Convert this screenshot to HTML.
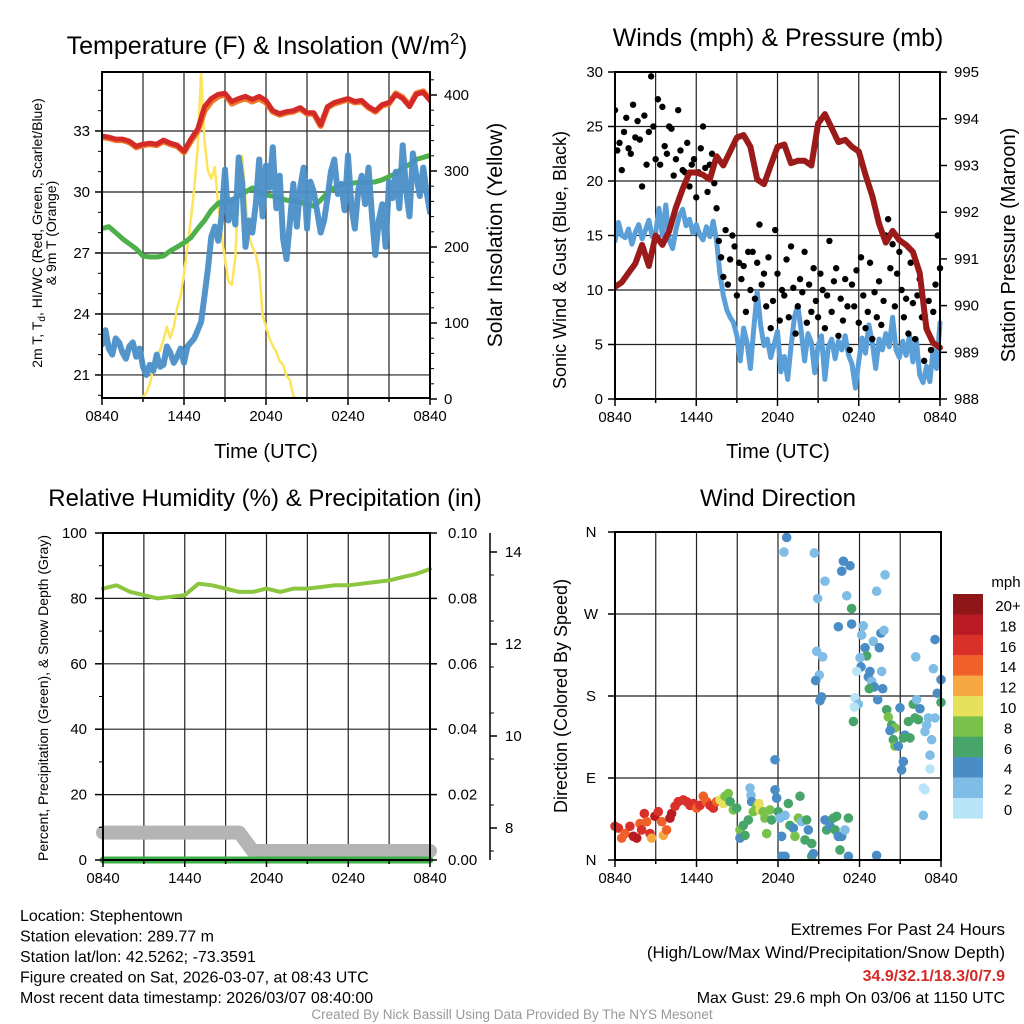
<!DOCTYPE html>
<html><head><meta charset="utf-8"><style>
html,body{margin:0;padding:0;background:#fff;}
svg{display:block;font-family:"Liberation Sans",Arial,sans-serif;}
</style></head><body>
<svg id="chart" width="1024" height="1024" viewBox="0 0 1024 1024">
<rect x="0" y="0" width="1024" height="1024" fill="#fff"/>
</svg>
<script>
// ===== Panel 1: temperature & insolation (half-hourly / quarter-hourly) =====
const tempRed=[32.75,32.7,32.6,32.6,32.5,32.25,32.35,32.4,32.35,32.55,32.4,32.3,32.0,32.6,33.1,34.2,34.6,34.8,34.85,34.45,34.6,34.7,34.55,34.7,34.5,34.0,33.85,33.95,34.0,34.15,33.9,33.9,33.3,34.2,34.4,34.5,34.6,34.45,34.5,34.2,34.0,34.3,34.4,34.8,34.6,34.2,34.8,34.9,34.5];
const tempOrange=[32.7,32.65,32.55,32.55,32.45,32.2,32.3,32.35,32.3,32.5,32.35,32.25,31.95,32.5,33.0,34.0,34.45,34.7,34.8,34.35,34.5,34.6,34.45,34.6,34.4,33.95,33.8,33.9,33.95,34.1,33.85,33.85,33.25,34.15,34.35,34.45,34.55,34.4,34.45,34.15,33.95,34.25,34.35,34.85,34.65,34.25,34.85,34.95,34.55];
const tempGreen=[28.2,28.3,28.0,27.7,27.45,27.2,26.85,26.8,26.8,26.85,27.1,27.3,27.5,27.75,28.2,28.6,29.1,29.45,29.55,29.6,29.8,30.0,30.2,30.0,29.85,29.8,29.7,29.6,29.55,29.5,29.4,29.3,29.6,29.95,30.2,30.35,30.4,30.45,30.45,30.45,30.5,30.6,30.75,30.9,31.2,31.35,31.6,31.7,31.8];
const tempBlue=[22.5,23.2,22.3,22.0,22.8,22.6,22.1,21.8,22.4,22.6,21.9,22.3,21.4,21.0,21.5,21.2,22.0,21.4,21.5,22.4,22.1,21.6,21.9,22.3,21.6,22.4,22.6,22.8,23.2,23.6,24.9,26.2,27.8,28.3,27.6,28.8,31.1,28.6,29.6,28.4,31.7,30.5,27.3,28.6,28.0,29.4,31.6,28.8,31.3,30.2,32.2,29.2,30.8,27.7,26.7,28.5,30.4,28.3,30.2,31.2,28.2,30.5,30.0,29.0,28.0,28.6,29.7,31.0,31.6,29.9,30.4,29.1,31.8,29.3,28.2,30.1,30.8,29.4,31.2,28.9,26.9,28.6,29.4,27.3,30.5,29.7,31.0,29.2,32.3,30.1,28.8,31.9,30.8,29.8,31.2,30.0,29.0];
const insolation=[0,0,0,0,0,0,0,0,0,0,0,0,3,8,20,40,58,64,78,95,80,95,120,135,165,200,235,278,330,430,340,300,290,305,255,215,185,155,150,185,280,320,260,215,200,190,170,110,95,80,70,62,50,45,30,25,4,0,0,0,0,0,0,0,0,0,0,0,0,0,0,0,0,0,0,0,0,0,0,0,0,0,0,0,0,0,0,0,0,0,0,0,0,0,0,0,0];
const timeTicks=["0840","1440","2040","0240","0840"];
const tempTicks=[21,24,27,30,33];
const insTicks=[0,100,200,300,400];
// ===== Panel 2: winds & pressure =====
const windSpeed=[14.5,16.2,15.0,14.8,15.6,14.2,15.3,16.0,14.7,15.5,16.4,14.9,15.2,17.5,15.0,17.8,14.6,13.8,15.5,16.8,17.4,15.9,16.5,15.2,16.0,15.1,14.6,15.8,14.9,16.3,14.5,11.5,9.5,8.2,7.5,7.0,5.8,3.5,6.5,5.2,2.8,6.5,9.8,6.8,4.9,5.5,3.8,5.0,6.2,2.5,3.9,1.8,4.8,7.5,8.6,6.2,3.5,6.0,5.2,2.4,4.9,5.8,1.8,4.8,5.5,3.7,5.3,4.5,5.8,4.0,3.2,1.0,3.5,5.6,4.2,6.8,5.2,2.8,5.5,4.5,6.0,4.8,7.5,4.5,3.8,5.3,4.0,5.8,3.4,5.5,2.2,1.5,3.0,1.6,4.5,2.8,7.0];
const windGust=[26.5,22.8,23.5,21.0,24.5,25.8,23.0,22.5,27.0,24.0,25.5,23.8,19.5,26.0,21.5,
24.5,29.6,25.0,22.0,27.5,21.5,26.8,23.2,22.5,25.0,24.8,20.5,22.0,26.5,22.8,
21.0,20.8,23.5,19.5,21.5,22.0,18.5,20.8,23.0,25.0,21.2,19.0,21.5,22.5,19.8,
17.5,14.5,13.0,11.2,15.5,10.5,12.8,15.0,14.0,9.5,12.5,11.0,12.2,8.0,13.5,
10.0,13.5,9.2,12.5,16.0,10.5,11.5,8.5,13.0,6.5,9.0,15.5,11.5,7.2,10.0,
9.5,12.8,7.5,14.0,10.2,6.0,8.5,11.0,9.8,13.5,7.0,10.5,8.0,12.0,9.0,
7.5,11.5,10.0,6.5,9.5,14.5,8.0,10.8,12.0,5.8,9.2,7.2,11.0,8.5,4.5,
10.5,8.5,11.8,7.0,13.0,9.5,6.5,8.0,12.5,5.5,9.8,7.5,10.8,6.8,9.0,
15.0,16.5,12.0,14.2,8.5,11.5,13.5,10.0,7.5,9.2,6.0,12.5,8.8,5.5,9.5,
11.0,7.5,3.5,6.5,9.0,4.5,8.0,10.5,15.0,12.0];
const pressure=[990.4,990.5,990.7,990.9,991.3,990.85,991.5,991.3,991.6,992.1,992.5,992.85,992.85,992.8,992.7,993.2,993.0,993.3,993.6,993.65,993.4,992.7,992.6,993.0,993.4,993.45,993.05,993.1,993.1,993.0,993.9,994.1,993.8,993.5,993.55,993.4,993.3,992.8,992.35,991.75,991.35,991.6,991.4,991.3,991.15,990.7,989.5,989.2,989.1];
const windTicks=[0,5,10,15,20,25,30];
const presTicks=[988,989,990,991,992,993,994,995];
// ===== Panel 3: RH, precip, snow (hourly) =====
const rh=[83,84,82,81,80,80.5,81,84.5,84,83,82,82,83,82,83,83,83.5,84,84,84.5,85,85.5,86.5,87.5,89];
const precip=[0,0,0,0,0,0,0,0,0,0,0,0,0,0,0,0,0,0,0,0,0,0,0,0,0];
const snowDepth=[7.9,7.9,7.9,7.9,7.9,7.9,7.9,7.9,7.9,7.9,7.9,7.5,7.5,7.5,7.5,7.5,7.5,7.5,7.5,7.5,7.5,7.5,7.5,7.5,7.5];
const rhTicks=[0,20,40,60,80,100];
const precipTicks=["0.00","0.02","0.04","0.06","0.08","0.10"];
const snowTicks=[8,10,12,14];
// ===== Panel 4: wind direction =====
const wdHour=[0.0,0.25,0.49,0.74,1.10,1.35,1.60,1.84,1.96,2.16,2.33,2.58,2.70,2.94,3.19,3.44,3.56,3.80,4.05,4.17,4.42,4.66,5.03,5.28,5.52,5.77,6.01,6.26,6.50,6.75,6.99,7.24,7.48,7.73,7.98,8.10,8.34,8.47,8.71,8.96,9.20,9.20,9.45,9.57,9.82,9.94,10.01,10.06,10.18,10.43,10.60,10.67,10.92,11.04,11.17,11.41,11.53,11.78,11.90,12.02,12.15,12.27,12.52,12.76,12.88,13.13,13.25,13.50,13.62,13.74,13.99,14.11,14.23,14.48,14.48,12.27,12.52,14.60,15.46,15.58,15.83,16.07,16.20,16.32,16.44,16.56,16.69,16.93,17.18,17.18,19.26,22.70,22.70,22.82,
12.64,12.44,14.67,15.46,14.92,16.81,17.30,16.69,17.06,17.42,19.88,19.26,16.44,17.42,18.28,18.16,19.58,19.80,19.02,18.41,19.46,18.53,14.85,15.29,18.04,23.56,22.14,18.11,17.79,18.77,19.63,18.65,18.90,19.09,18.72,19.71,15.04,14.77,23.44,24.0,15.21,15.09,23.73,24.0,17.67,17.91,17.62,19.34,20.0,20.12,20.98,21.96,22.45,22.21,17.55,20.37,20.61,20.25,21.60,22.09,22.33,23.07,23.56,22.94,22.82,21.35,21.23,21.72,20.49,20.61,20.86,23.31,21.23,21.10,23.19,23.19,11.78];
const wdDir=[37,35,24,29,37,26,24,40,33,51,42,29,24,48,53,42,27,33,46,51,59,64,66,64,60,62,57,60,70,64,60,57,64,66,62,70,73,64,55,57,33,24,38,27,44,79,71,64,53,59,62,55,53,46,29,55,44,77,68,53,46,26,49,62,38,35,26,46,70,42,22,44,33,18,4,4,4,7,44,33,37,46,33,48,26,11,26,33,46,4,5,49,79,77,
354,338,337,306,287,328,323,317,290,276,313,295,256,259,257,247,249,252,240,233,233,224,229,223,222,242,223,212,207,207,207,201,196,190,188,188,203,197,210,198,179,175,183,173,178,171,168,176,165,157,167,171,166,176,152,148,145,142,152,156,154,156,156,148,141,137,134,134,132,125,125,132,108,99,115,100,110];
const wdSpeed=[17,16,14,14,17,18,19,15,16,17,14,16,13,18,17,15,12,14,19,18,17,16,17,16,17,16,14,17,14,15,16,17,14,11,10,8,8,7,8,6,8,4,7,6,6,2,2,4,8,8,10,11,8,8,8,8,7,4,4,6,2,4,2,6,7,4,8,8,6,3,6,6,4,6,6,4,4,4,4,6,4,6,6,6,4,6,4,2,6,4,4,2,1,0,
4,2,2,2,2,4,4,4,2,6,2,2,4,4,2,2,4,2,2,4,4,6,2,2,2,4,2,4,0,4,2,4,2,4,6,4,2,4,2,4,4,4,4,6,0,2,0,4,6,8,4,6,4,2,6,6,8,4,6,6,6,2,2,2,2,4,6,6,6,8,4,2,4,4,2,0,4];
const dirLabels=["N","E","S","W","N"];
const cbLabels=["20+","18","16","14","12","10","8","6","4","2","0"];
const cbColors=["#8e1619","#b81b22","#d9302a","#ef6128","#f5a742","#e6e05a","#79c14b","#47a56a","#4a8dc6","#80bde6","#b7e4f7"];

const NS="http://www.w3.org/2000/svg";
const svg=document.getElementById("chart");
function mk(tag,attrs,parent){const e=document.createElementNS(NS,tag);for(const k in attrs)e.setAttribute(k,attrs[k]);(parent||svg).appendChild(e);return e;}
function txt(s,x,y,size,anchor,parent,extra){const e=mk("text",Object.assign({x:x,y:y,"font-size":size,"text-anchor":anchor||"middle",fill:"#000"},extra||{}),parent);e.textContent=s;return e;}
function hx(x0,x1,h){return x0+(x1-x0)*h/24;}
function idxHour(i,n){return i*24/(n-1);}

function frame(name){
  const g=mk("g",{});
  
  
  return g;
}
function gridV(g,x0,y0,x1,y1){
  for(let h=3;h<24;h+=3){const x=hx(x0,x1,h);const l=mk("line",{x1:x,y1:y0,x2:x,y2:y1,stroke:"#222","stroke-width":1.2},g);
  
  }
}
function gridH(g,x0,x1,y){const l=mk("line",{x1:x0,y1:y,x2:x1,y2:y,stroke:"#222","stroke-width":1.2},g);
  
  }
function box(g,x0,y0,x1,y1){const r=mk("rect",{x:x0,y:y0,width:x1-x0,height:y1-y0,fill:"none",stroke:"#000","stroke-width":2},g);
  
  }
function xTicks(g,x0,x1,y1){
  for(let h=0;h<=24;h+=3){const x=hx(x0,x1,h);mk("line",{x1:x,y1:y1,x2:x,y2:y1+(h%6==0?7:4),stroke:"#000","stroke-width":1.5},g);}
  timeTicks.forEach((t,i)=>{const e=txt(t,hx(x0,x1,i*6),y1+23,15,"middle",g);
  
  });
}
function poly(g,xs,ys,stroke,w,name,op){
  const pts=xs.map((x,i)=>x.toFixed(1)+","+ys[i].toFixed(1)).join(" ");
  const p=mk("polyline",{points:pts,fill:"none",stroke:stroke,"stroke-width":w,"stroke-linejoin":"round","stroke-linecap":"round","stroke-opacity":op||1},g);
  
  
  return p;
}

// ---------- Panel 1 ----------
(function(){
  const x0=102,x1=430,y0=72,y1=398;
  const yT=T=>131+(33-T)*20.33, yW=W=>399-W*0.76;
  const g=frame("temperature-panel");
  gridV(g,x0,y0,x1,y1);
  tempTicks.forEach(t=>{gridH(g,x0,x1,yT(t));});
  const clip=mk("clipPath",{id:"c1"},g);mk("rect",{x:x0,y:y0,width:x1-x0,height:y1-y0},clip);
  const d=mk("g",{"clip-path":"url(#c1)"},g);
  poly(d,insolation.map((v,i)=>hx(x0,x1,idxHour(i,insolation.length))),insolation.map(yW),"#fde45a",2.5,"insolation-line");
  poly(d,tempGreen.map((v,i)=>hx(x0,x1,idxHour(i,tempGreen.length))),tempGreen.map(yT),"#4db04a",5,"heat-index-line");
  poly(d,tempBlue.map((v,i)=>hx(x0,x1,idxHour(i,tempBlue.length))),tempBlue.map(yT),"#4a8fc8",6,"dewpoint-line",0.95);
  poly(d,tempOrange.map((v,i)=>hx(x0,x1,idxHour(i,tempOrange.length))),tempOrange.map(yT),"#f07a2a",6,"temp-9m-line");
  poly(d,tempRed.map((v,i)=>hx(x0,x1,idxHour(i,tempRed.length))),tempRed.map(yT),"#d42a27",5,"temp-2m-line");
  box(g,x0,y0,x1,y1);
  xTicks(g,x0,x1,y1);
  tempTicks.forEach(t=>{mk("line",{x1:x0-7,y1:yT(t),x2:x0,y2:yT(t),stroke:"#000","stroke-width":1.5},g);
    const e=txt(String(t),x0-12,yT(t)+5,15,"end",g);
    
    });
  for(let t=20;t<=35;t++){mk("line",{x1:x0-4,y1:yT(t),x2:x0,y2:yT(t),stroke:"#000","stroke-width":1},g);}
  insTicks.forEach(t=>{mk("line",{x1:x1,y1:yW(t),x2:x1+7,y2:yW(t),stroke:"#000","stroke-width":1.5},g);
    const e=txt(String(t),x1+14,yW(t)+5,15,"start",g);
    
    });
  for(let t=20;t<=420;t+=20){mk("line",{x1:x1,y1:yW(t),x2:x1+4,y2:yW(t),stroke:"#000","stroke-width":1},g);}
  const ti=txt("",267,54,25,"middle",g);ti.innerHTML='Temperature (F) &amp; Insolation (W/m<tspan font-size="16" dy="-10">2</tspan><tspan dy="10">)</tspan>';
  
  
  const xl=txt("Time (UTC)",266,458,20,"middle",g);
  
  
  const yl=txt("",0,0,14,"middle",g,{transform:"translate(42,233) rotate(-90)"});
  yl.innerHTML='2m T, T<tspan font-size="10" dy="3">d</tspan><tspan dy="-3">, HI/WC (Red, Green, Scarlet/Blue)</tspan>';
  
  
  const yl2=txt("& 9m T (Orange)",0,0,14,"middle",g,{transform:"translate(56,233) rotate(-90)"});
  
  
  const yr=txt("Solar Insolation (Yellow)",0,0,21,"middle",g,{transform:"translate(502,235) rotate(-90)"});
  
  
})();

// ---------- Panel 2 ----------
(function(){
  const x0=615,x1=940,y0=72,y1=399;
  const yV=v=>399-v*10.9, yP=p=>399-(p-988)*46.7;
  const g=frame("winds-panel");
  gridV(g,x0,y0,x1,y1);
  windTicks.forEach(t=>{if(t>0&&t<30)gridH(g,x0,x1,yV(t));});
  const clip=mk("clipPath",{id:"c2"},g);mk("rect",{x:x0,y:y0-4,width:x1-x0+4,height:y1-y0+4},clip);
  const d=mk("g",{"clip-path":"url(#c2)"},g);
  poly(d,windSpeed.map((v,i)=>hx(x0,x1,idxHour(i,windSpeed.length))),windSpeed.map(yV),"#5a9fd8",5,"wind-speed-line");
  windGust.forEach((v,i)=>{const c=mk("circle",{cx:hx(x0,x1,idxHour(i,windGust.length)),cy:yV(v),r:3.2,fill:"#000"},d);
    
    });
  poly(d,pressure.map((v,i)=>hx(x0,x1,idxHour(i,pressure.length))),pressure.map(yP),"#9b1a1a",6,"pressure-line");
  box(g,x0,y0,x1,y1);
  xTicks(g,x0,x1,y1);
  windTicks.forEach(t=>{mk("line",{x1:x0-7,y1:yV(t),x2:x0,y2:yV(t),stroke:"#000","stroke-width":1.5},g);
    const e=txt(String(t),x0-12,yV(t)+5,15,"end",g);
    
    });
  presTicks.forEach(t=>{mk("line",{x1:x1,y1:yP(t),x2:x1+7,y2:yP(t),stroke:"#000","stroke-width":1.5},g);
    const e=txt(String(t),x1+14,yP(t)+5,15,"start",g);
    
    });
  const ti=txt("Winds (mph) & Pressure (mb)",778,46,25,"middle",g);
  
  
  const xl=txt("Time (UTC)",778,458,20,"middle",g);
  
  
  const yl=txt("Sonic Wind & Gust (Blue, Black)",0,0,18,"middle",g,{transform:"translate(566,260) rotate(-90)"});
  
  
  const yr=txt("Station Pressure (Maroon)",0,0,20,"middle",g,{transform:"translate(1015,245) rotate(-90)"});
  
  
})();

// ---------- Panel 3 ----------
(function(){
  const x0=103,x1=430,y0=533,y1=860;
  const yR=v=>860-v*3.27, yPr=p=>860-p*3270, yS=s=>828-(s-8)*46;
  const g=frame("humidity-panel");
  gridV(g,x0,y0,x1,y1);
  rhTicks.forEach(t=>{if(t>0&&t<100)gridH(g,x0,x1,yR(t));});
  poly(g,snowDepth.map((v,i)=>hx(x0,x1,idxHour(i,snowDepth.length))),snowDepth.map(yS),"#b4b4b4",14,"snow-depth-line");
  poly(g,precip.map((v,i)=>hx(x0,x1,idxHour(i,precip.length))),precip.map(yPr),"#3fae49",7,"precipitation-line");
  poly(g,rh.map((v,i)=>hx(x0,x1,idxHour(i,rh.length))),rh.map(yR),"#8cc540",4,"humidity-line");
  box(g,x0,y0,x1,y1);
  xTicks(g,x0,x1,y1);
  rhTicks.forEach(t=>{mk("line",{x1:x0-8,y1:yR(t),x2:x0,y2:yR(t),stroke:"#000","stroke-width":1.5},g);
    const e=txt(String(t),x0-16,yR(t)+5,15,"end",g);
    
    });
  for(let t=10;t<100;t+=20){mk("line",{x1:x0-4,y1:yR(t),x2:x0,y2:yR(t),stroke:"#000","stroke-width":1},g);}
  precipTicks.forEach((t,i)=>{const y=yPr(i*0.02);mk("line",{x1:x1,y1:y,x2:x1+7,y2:y,stroke:"#000","stroke-width":1.5},g);
    const e=txt(t,x1+18,y+5,15,"start",g);
    
    });
  mk("line",{x1:490,y1:533,x2:490,y2:860,stroke:"#000","stroke-width":1.5},g);
  snowTicks.forEach(t=>{mk("line",{x1:490,y1:yS(t),x2:497,y2:yS(t),stroke:"#000","stroke-width":1.5},g);
    const e=txt(String(t),505,yS(t)+5,15,"start",g);
    
    });
  for(let t=7.5;t<=14.5;t+=1){if(yS(t)>=533&&yS(t)<=860)mk("line",{x1:490,y1:yS(t),x2:494,y2:yS(t),stroke:"#000","stroke-width":1},g);}
  const ti=txt("Relative Humidity (%) & Precipitation (in)",265,506,24,"middle",g);
  
  
  const yl=txt("Percent, Precipitation (Green), & Snow Depth (Gray)",0,0,14,"middle",g,{transform:"translate(48,698) rotate(-90)"});
  
  
})();

// ---------- Panel 4 ----------
(function(){
  const x0=615,x1=941,y0=532,y1=860;
  const yD=d=>860-d*0.9111;
  const g=frame("wind-direction-panel");
  gridV(g,x0,y0,x1,y1);
  [90,180,270].forEach(d=>gridH(g,x0,x1,yD(d)));
  wdHour.forEach((h,i)=>{const s=wdSpeed[i];const bin=Math.min(10,Math.floor(s/2));
    const c=mk("circle",{cx:hx(x0,x1,h),cy:yD(wdDir[i]),r:4.8,fill:cbColors[10-bin]},g);
    
    });
  box(g,x0,y0,x1,y1);
  xTicks(g,x0,x1,y1);
  dirLabels.forEach((t,i)=>{const y=yD(i*90);mk("line",{x1:x0-7,y1:y,x2:x0,y2:y,stroke:"#000","stroke-width":1.5},g);
    const e=txt(t,x0-24,y+5,15,"middle",g);
    
    });
  const ti=txt("Wind Direction",778,506,24,"middle",g);
  
  
  const yl=txt("Direction (Colored By Speed)",0,0,18,"middle",g,{transform:"translate(567,696) rotate(-90)"});
  
  
  const lg=mk("g",{},g);
  
  
  const u=txt("mph",1006,587,15,"middle",lg);
  
  
  cbColors.forEach((c,i)=>{const r=mk("rect",{x:953,y:594+i*20.4,width:30,height:20.6,fill:c},lg);
    
    
    const e=txt(cbLabels[i],1008,594+i*20.4+17,15,"middle",lg);
    
    });
})();

// ---------- Footer ----------
(function(){
  const g=mk("g",{});
  
  
  const left=["Location: Stephentown","Station elevation: 289.77 m","Station lat/lon: 42.5262; -73.3591","Figure created on Sat, 2026-03-07, at 08:43 UTC","Most recent data timestamp: 2026/03/07 08:40:00"];
  left.forEach((s,i)=>{const e=txt(s,20,921+i*20.5,16,"start",g);
    
    });
  const r1=txt("Extremes For Past 24 Hours",1005,935,17,"end",g);
  
  
  const r2=txt("(High/Low/Max Wind/Precipitation/Snow Depth)",1005,958,17,"end",g);
  
  
  const r3=txt("34.9/32.1/18.3/0/7.9",1005,981,16,"end",g,{fill:"#d42a27","font-weight":"bold"});
  
  
  const r4=txt("Max Gust: 29.6 mph On 03/06 at 1150 UTC",1005,1003,16,"end",g);
  
  
  const c=txt("Created By Nick Bassill Using Data Provided By The NYS Mesonet",512,1019,13.5,"middle",g,{fill:"#999"});
  
  
})();
</script>
</body></html>
